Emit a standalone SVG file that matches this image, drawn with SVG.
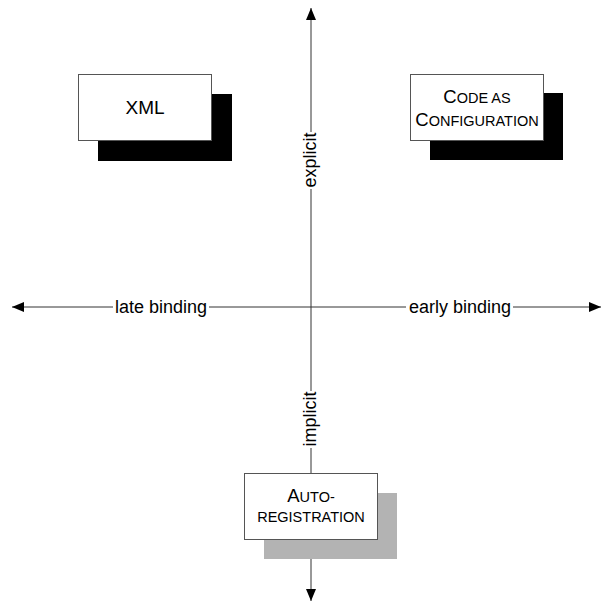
<svg xmlns="http://www.w3.org/2000/svg" width="602" height="602" viewBox="0 0 602 602">
<defs>
<style>
.axis{stroke:#333;stroke-width:1;fill:none}
.lbl{font-family:"Liberation Sans",Arial,sans-serif;font-size:18px;fill:#000;text-anchor:middle}
.bg{fill:#fff}
.box{fill:#fff;stroke:#555;stroke-width:1}
.t{font-family:"Liberation Sans",Arial,sans-serif;font-size:18.5px;fill:#000;text-anchor:middle}
.sc{font-size:14.5px}
</style>
<marker id="ah" viewBox="0 0 12 10" refX="12" refY="5" markerWidth="12" markerHeight="10" markerUnits="userSpaceOnUse" orient="auto">
<path d="M0,0 L12,5 L0,10 Z" fill="#000"/>
</marker>
</defs>
<rect width="602" height="602" fill="#fff"/>
<g id="connectors">
<line class="axis" x1="311" y1="307" x2="311" y2="8" marker-end="url(#ah)"/>
<line class="axis" x1="311" y1="307" x2="311" y2="601" marker-end="url(#ah)"/>
<line class="axis" x1="311" y1="307" x2="12" y2="307" marker-end="url(#ah)"/>
<line class="axis" x1="311" y1="307" x2="601" y2="307" marker-end="url(#ah)"/>
<rect class="bg" x="113" y="296" width="96" height="22"/>
<text class="lbl" x="161" y="313">late binding</text>
<rect class="bg" x="406" y="296" width="107" height="22"/>
<text class="lbl" x="460" y="313">early binding</text>
<rect class="bg" x="300" y="132" width="22" height="57"/>
<text class="lbl" transform="translate(311,160) rotate(-90)" x="0" y="5">explicit</text>
<rect class="bg" x="300" y="391" width="22" height="57"/>
<text class="lbl" transform="translate(311,419) rotate(-90)" x="0" y="5">implicit</text>
</g>
<g id="node-xml">
<rect x="98" y="94" width="134" height="67" fill="#000"/>
<rect class="box" x="78.5" y="74.5" width="133" height="66"/>
<text class="t" x="145" y="113.5" style="font-size:19px">XML</text>
</g>
<g id="node-code">
<rect x="430" y="93" width="133" height="67" fill="#000"/>
<rect class="box" x="410.5" y="74.5" width="133" height="66"/>
<text class="t" x="477" y="103">C<tspan class="sc">ODE AS</tspan></text>
<text class="t" x="477" y="126">C<tspan class="sc">ONFIGURATION</tspan></text>
</g>
<g id="node-auto">
<rect x="264" y="493" width="133" height="66" fill="#b3b3b3"/>
<rect class="box" x="244.5" y="473.5" width="133" height="66"/>
<text class="t" x="311" y="502">A<tspan class="sc">UTO-</tspan></text>
<text class="t sc" x="311" y="522">REGISTRATION</text>
</g>
</svg>
